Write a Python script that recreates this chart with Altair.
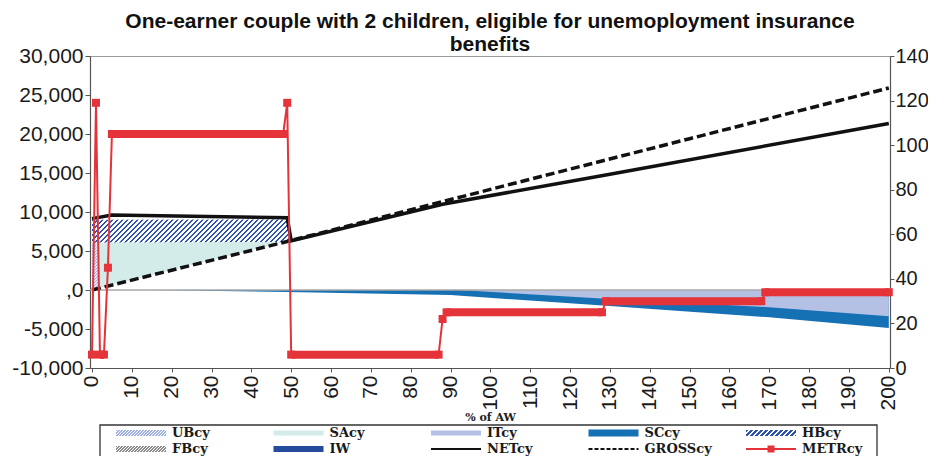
import altair as alt
import pandas as pd

# ---------------- data ----------------
TITLE = ["One-earner couple with 2 children, eligible for unemoployment insurance", "benefits"]
X_TITLE = "% of AW"

X_TICKS = list(range(0, 201, 10))
Y_LEFT_TICKS = [-10000, -5000, 0, 5000, 10000, 15000, 20000, 25000, 30000]
Y_RIGHT_TICKS = [0, 20, 40, 60, 80, 100, 120, 140]

GROSS_X = [0, 50, 100, 150, 200]
GROSS_Y = [0, 6350, 12900, 19400, 25900]

NET_X = [0, 5, 49, 50, 88, 130, 200]
NET_Y = [9150, 9600, 9250, 6300, 11000, 14850, 21350]

HB_X = [0, 49, 50]
HB_LO = [6100, 6150, 6300]
HB_HI = [9000, 9050, 6300]

SA_X = [0, 49, 50]
SA_HI = [6100, 6150, 6300]

UB_X = [0, 1, 2]
UB_HI = [6100, 6100, 0]

SC_X = [13, 49, 90, 130, 170, 200]
SC_LO = [0, -250, -650, -2050, -3500, -4870]

IT_X = [92, 130, 170, 200]
IT_LO = [0, -1150, -2200, -3380]

METR_X = [0, 1, 2, 3, 4, 5, 48, 49, 50, 87, 88, 89, 128, 129, 168, 169, 200]
METR_Y = [6, 119, 6, 6, 45, 105, 105, 119, 6, 6, 22, 25, 25, 30, 30, 34, 34]

LEGEND_ROWS = [["UBcy", "SAcy", "ITcy", "SCcy", "HBcy"],
               ["FBcy", "IW", "NETcy", "GROSScy", "METRcy"]]

# ---------------- styling ----------------
W, H = 800, 312
X_DOM = [-0.5, 200.3]
YL_DOM = [-10000, 30000]
YR_DOM = [0, 140]
FONT = "Liberation Sans"
RED = "#e5333a"
SA_COL = "#d4ece9"
IT_COL = "#b4c1e5"
SC_COL = "#1670b4"
HB_COL = "#2c52b3"
UB_COL = "#9fb1e6"
IW_COL = "#244b9c"
FB_COL = "#8c8c8c"

PXX = W / (X_DOM[1] - X_DOM[0])
PXY = H / (YL_DOM[1] - YL_DOM[0])


def stripes(color, bg, w, h, period, frac):
    """Diagonal '/' stripes emulated with a linear gradient over a w x h box."""
    k = h / w
    a = (w + h) / (w * (1 + k * k))
    n = (w + h) / period
    stops = []
    i = 0
    while i / n < 1:
        t0 = i / n
        t1 = min((i + frac) / n, 1)
        t2 = min((i + 1) / n, 1)
        stops += [{"offset": t0, "color": color}, {"offset": t1, "color": color},
                  {"offset": t1, "color": bg}, {"offset": t2, "color": bg}]
        i += 1
    return {"gradient": "linear", "x1": 0, "y1": 0, "x2": a, "y2": a * k, "stops": stops}


xs = alt.Scale(domain=X_DOM, nice=False, zero=False)
yl = alt.Scale(domain=YL_DOM, nice=False, zero=False)
yr = alt.Scale(domain=YR_DOM, nice=False, zero=False)

x_axis = alt.Axis(values=X_TICKS, labelAngle=270, labelFont=FONT, labelFontSize=21,
                  labelPadding=3, tickSize=4, title=X_TITLE, titleFont="DejaVu Serif",
                  titleFontSize=11, titleFontWeight="bold", titlePadding=1, titleColor="#222",
                  labelOverlap=False, labelAlign="right", labelBaseline="middle")
yl_axis = alt.Axis(values=Y_LEFT_TICKS, labelFont=FONT, labelFontSize=21, tickSize=5,
                   labelPadding=2, title=None,
                   labelExpr="datum.value == 0 ? ',0' : replace(format(datum.value, ','), '\u2212', '-')")
yr_axis = alt.Axis(values=Y_RIGHT_TICKS, orient="right", labelFont=FONT, labelFontSize=20,
                   tickSize=4, labelPadding=1, title=None)

X = alt.X("x:Q", scale=xs, axis=x_axis)
YL = alt.Y("y:Q", scale=yl, axis=yl_axis)
YR = alt.Y("y:Q", scale=yr, axis=yr_axis)


def band(xv, hi, lo):
    return pd.DataFrame({"x": xv, "y": hi, "y2": lo})


sa = alt.Chart(band(SA_X, SA_HI, [0] * len(SA_X))).mark_area(color=SA_COL).encode(x=X, y=YL, y2="y2:Q")
iw = alt.Chart(band(GROSS_X, GROSS_Y, [0] * len(GROSS_X))).mark_area(color="white").encode(x=X, y=YL, y2="y2:Q")
ub = alt.Chart(band(UB_X, UB_HI, [0] * len(UB_X))).mark_area(
    fill=stripes(UB_COL, "#e3e9fa", (UB_X[-1] - UB_X[0]) * PXX, max(UB_HI) * PXY, 3, 0.5)
).encode(x=X, y=YL, y2="y2:Q")
hb = alt.Chart(band(HB_X, HB_HI, HB_LO)).mark_area(
    fill=stripes(HB_COL, "white", (HB_X[-1] - HB_X[0]) * PXX, (max(HB_HI) - min(HB_LO)) * PXY, 5, 0.45)
).encode(x=X, y=YL, y2="y2:Q")
sc = alt.Chart(band(SC_X, SC_LO, [0] * len(SC_X))).mark_area(color=SC_COL).encode(x=X, y=YL, y2="y2:Q")
it = alt.Chart(band(IT_X, IT_LO, [0] * len(IT_X))).mark_area(color=IT_COL).encode(x=X, y=YL, y2="y2:Q")
zero = alt.Chart(pd.DataFrame({"y": [0]})).mark_rule(color="#a8a8a8", strokeWidth=1.5).encode(y=YL)
gross = alt.Chart(pd.DataFrame({"x": GROSS_X, "y": GROSS_Y})).mark_line(
    color="#111", strokeWidth=3.5, strokeDash=[9, 4]).encode(x=X, y=YL)
net = alt.Chart(pd.DataFrame({"x": NET_X, "y": NET_Y})).mark_line(
    color="#111", strokeWidth=3.5).encode(x=X, y=YL)

# METR: thin line through points, thick runs where consecutive values repeat, square markers
runs = []
i = 0
while i < len(METR_Y) - 1:
    j = i
    while j + 1 < len(METR_Y) and METR_Y[j + 1] == METR_Y[i]:
        j += 1
    if j > i:
        runs.append({"x": METR_X[i], "x2": METR_X[j], "y": METR_Y[i]})
        i = j
    else:
        i += 1

metr_df = pd.DataFrame({"x": METR_X, "y": METR_Y})
metr_line = alt.Chart(metr_df).mark_line(color=RED, strokeWidth=2).encode(x=X, y=YR)
metr_runs = alt.Chart(pd.DataFrame(runs)).mark_rule(color=RED, strokeWidth=8, strokeCap="butt").encode(
    x=X, x2="x2:Q", y=YR)
metr_pts = alt.Chart(metr_df).mark_square(color=RED, size=64, opacity=1).encode(x=X, y=YR)

# ---------------- hand-made legend below the plot (shares the x scale, own y scale) ----------------
lys = alt.Scale(domain=[0, H], nice=False, zero=False, reverse=True)
LY = alt.Y("y:Q", scale=lys, axis=None)


def px2x(p):
    return X_DOM[0] + p / PXX


COL0, COLD = 82, 157.5
ROWY = [377, 393]
recs = []
for r, names in enumerate(LEGEND_ROWS):
    for c, nm in enumerate(names):
        tx = COL0 + c * COLD
        recs.append({"name": nm, "tx": px2x(tx), "x": px2x(tx - 56), "x2": px2x(tx - 6),
                     "xm": px2x(tx - 31), "y": ROWY[r]})
leg = pd.DataFrame(recs)
SW_W = 50

box = alt.Chart(pd.DataFrame({"x": [px2x(10)], "x2": [px2x(787)], "y": [369], "y2": [430]})).mark_rect(
    fill="white", stroke="#333", strokeWidth=1.3).encode(x=X, x2="x2:Q", y=LY, y2="y2:Q")
ltext = alt.Chart(leg).mark_text(align="left", baseline="middle", font="DejaVu Serif",
                                 fontWeight="bold", fontSize=13, color="#1a1a1a").encode(
    x=alt.X("tx:Q", scale=xs, axis=x_axis), y=LY, text="name:N")


def swatch_rect(nm, h, **kw):
    d = leg[leg.name == nm].copy()
    d["y1"] = d["y"] - h / 2
    d["y2"] = d["y"] + h / 2
    return alt.Chart(d).mark_rect(**kw).encode(x=X, x2="x2:Q", y=alt.Y("y1:Q", scale=lys, axis=None),
                                               y2="y2:Q")


sw_sa = swatch_rect("SAcy", 5, color=SA_COL)
sw_it = swatch_rect("ITcy", 5, color=IT_COL)
sw_sc = swatch_rect("SCcy", 7, color=SC_COL)
sw_iw = swatch_rect("IW", 6, color=IW_COL)
sw_ub = swatch_rect("UBcy", 6, fill=stripes(UB_COL, "white", SW_W, 6, 3, 0.5))
sw_hb = swatch_rect("HBcy", 6, fill=stripes(HB_COL, "white", SW_W, 6, 5, 0.45))
sw_fb = swatch_rect("FBcy", 6, fill=stripes(FB_COL, "white", SW_W, 6, 3, 0.5))
sw_net = alt.Chart(leg[leg.name == "NETcy"]).mark_rule(color="#111", strokeWidth=2).encode(
    x=X, x2="x2:Q", y=LY)
sw_gross = alt.Chart(leg[leg.name == "GROSScy"]).mark_rule(color="#111", strokeWidth=2,
                                                            strokeDash=[4, 2]).encode(x=X, x2="x2:Q", y=LY)
sw_metr = alt.Chart(leg[leg.name == "METRcy"]).mark_rule(color=RED, strokeWidth=2).encode(
    x=X, x2="x2:Q", y=LY)
sw_metr_pt = alt.Chart(leg[leg.name == "METRcy"]).mark_square(color=RED, size=49, opacity=1).encode(
    x=alt.X("xm:Q", scale=xs, axis=x_axis), y=LY)

left = alt.layer(sa, iw, ub, hb, sc, it, zero, gross, net)
right = alt.layer(metr_line, metr_runs, metr_pts)
legend = alt.layer(box, sw_ub, sw_sa, sw_it, sw_sc, sw_hb, sw_fb, sw_iw, sw_net, sw_gross, sw_metr,
                   sw_metr_pt, ltext)

chart = alt.layer(left, right, legend).resolve_scale(y="independent").properties(
    width=W, height=H,
    title=alt.TitleParams(TITLE, font=FONT, fontSize=21, fontWeight="bold", anchor="middle",
                          lineHeight=23, offset=-10, color="#111"),
    autosize=alt.AutoSizeParams(type="none"),
    padding={"left": 82, "top": 48, "right": 38, "bottom": 88},
).configure_view(stroke="#9b9b9b", strokeWidth=1).configure_axis(
    grid=False, labelColor="#1a1a1a", domainColor="#555", tickColor="#555", domainWidth=1.2
)

chart.save("out.html", embed_options={"renderer": "svg", "actions": False})
